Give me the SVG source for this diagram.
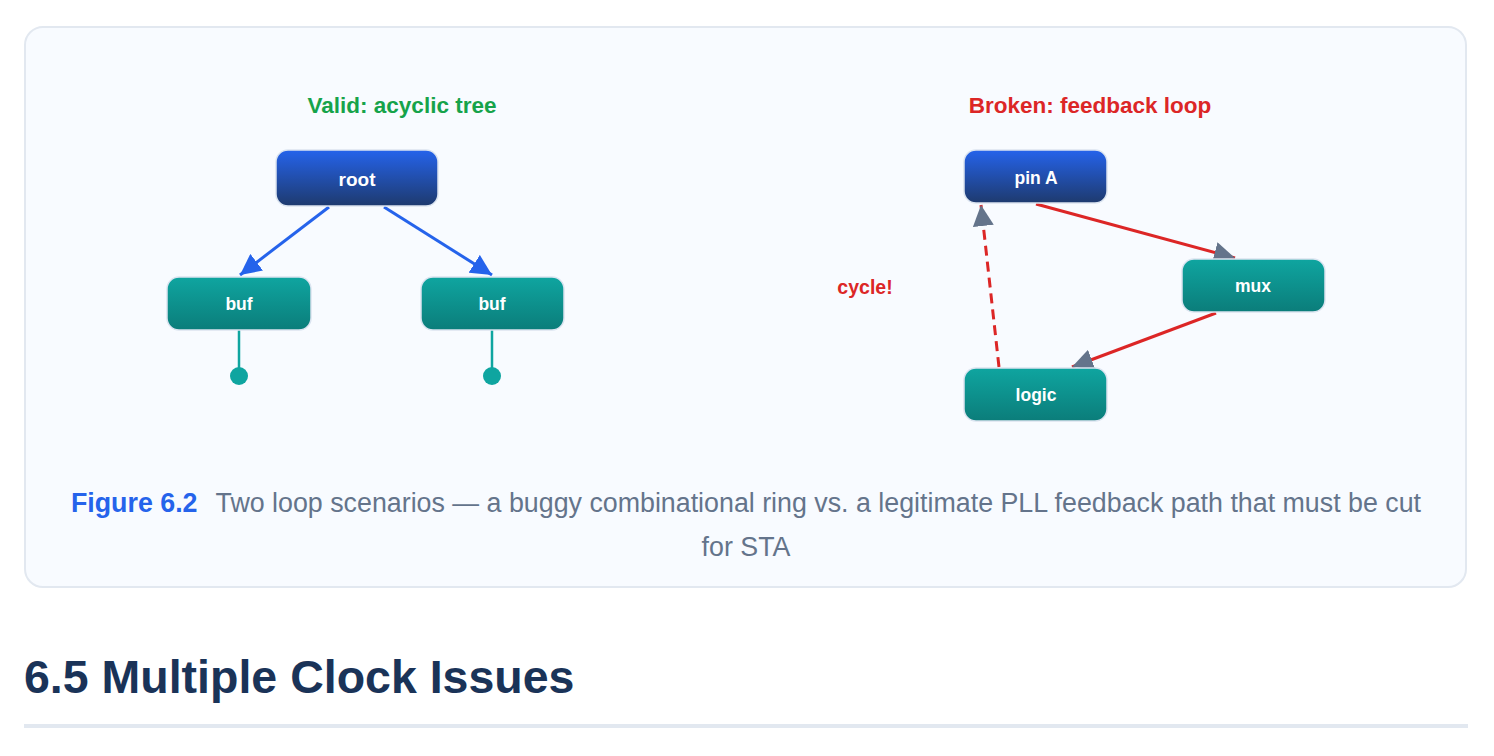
<svg xmlns="http://www.w3.org/2000/svg" width="1494" height="756" viewBox="0 0 1494 756">
<defs>
<linearGradient id="gb" x1="0" y1="0" x2="0" y2="1"><stop offset="0" stop-color="#2563eb"/><stop offset="1" stop-color="#1e3a6e"/></linearGradient>
<linearGradient id="gt" x1="0" y1="0" x2="0" y2="1"><stop offset="0" stop-color="#0fa5a0"/><stop offset="1" stop-color="#0b7d7a"/></linearGradient>
<marker id="ab" viewBox="0 0 10 10" refX="10" refY="5" markerWidth="7" markerHeight="7" markerUnits="strokeWidth" orient="auto"><path d="M0,0L10,5L0,10z" fill="#2563eb"/></marker>
<marker id="ag" viewBox="0 0 10 10" refX="10" refY="5" markerWidth="7" markerHeight="7" markerUnits="strokeWidth" orient="auto"><path d="M0,0L10,5L0,10z" fill="#64748b"/></marker>
<style>
.n{stroke:#dbe4f0;stroke-width:1.5}
.t{font-family:"Liberation Sans",Arial,sans-serif;font-weight:bold;font-size:18px;fill:#fff;text-anchor:middle}
.s{font-family:"Liberation Sans",Arial,sans-serif;font-weight:bold;font-size:22.5px;text-anchor:middle}
</style>
</defs>
<rect width="1494" height="756" fill="#fff"/>
<rect x="25" y="27" width="1441" height="560" rx="18" fill="#f8fbff" stroke="#e2e8f0" stroke-width="2"/>
<text class="s" x="402" y="113" fill="#16a34a">Valid: acyclic tree</text>
<text class="s" x="1090" y="113" fill="#dc2626">Broken: feedback loop</text>
<text class="s" x="865" y="294" fill="#dc2626" style="font-size:19.5px">cycle!</text>
<g id="connectors" fill="none" stroke-width="3">
<line x1="329" y1="207" x2="240" y2="275" stroke="#2563eb" marker-end="url(#ab)"/>
<line x1="384" y1="207" x2="492" y2="275" stroke="#2563eb" marker-end="url(#ab)"/>
<line x1="239" y1="330" x2="239" y2="370" stroke="#0fa5a0" stroke-width="2.5"/>
<line x1="492" y1="330" x2="492" y2="370" stroke="#0fa5a0" stroke-width="2.5"/>
<line x1="1036" y1="204" x2="1235" y2="258" stroke="#dc2626" marker-end="url(#ag)"/>
<line x1="1216" y1="313" x2="1072" y2="367" stroke="#dc2626" marker-end="url(#ag)"/>
<line x1="999" y1="367" x2="981" y2="205" stroke="#dc2626" stroke-dasharray="10,6" marker-end="url(#ag)"/>
</g>
<circle cx="239" cy="376" r="9" fill="#0fa5a0"/>
<circle cx="492" cy="376" r="9" fill="#0fa5a0"/>
<g id="root"><rect class="n" x="276" y="150" width="162" height="56" rx="12" fill="url(#gb)"/><text class="t" x="357" y="186" style="font-size:19px">root</text></g>
<g id="buf1"><rect class="n" x="167" y="277" width="144" height="53" rx="12" fill="url(#gt)"/><text class="t" x="239" y="310" style="font-size:17.5px">buf</text></g>
<g id="buf2"><rect class="n" x="421" y="277" width="143" height="53" rx="12" fill="url(#gt)"/><text class="t" x="492" y="310" style="font-size:17.5px">buf</text></g>
<g id="pinA"><rect class="n" x="964" y="150" width="143" height="53" rx="12" fill="url(#gb)"/><text class="t" x="1036" y="184" style="font-size:17.5px">pin A</text></g>
<g id="mux"><rect class="n" x="1182" y="259" width="143" height="53" rx="12" fill="url(#gt)"/><text class="t" x="1253" y="292" style="font-size:17.5px">mux</text></g>
<g id="logic"><rect class="n" x="964" y="368" width="143" height="53" rx="12" fill="url(#gt)"/><text class="t" x="1036" y="401" style="font-size:17.5px">logic</text></g>
<text x="746" y="512" text-anchor="middle" font-family="Liberation Sans,Arial,sans-serif" font-size="26.8" fill="#64748b"><tspan fill="#2563eb" font-weight="bold">Figure 6.2</tspan><tspan dx="18">Two loop scenarios — a buggy combinational ring vs. a legitimate PLL feedback path that must be cut</tspan></text>
<text x="746" y="556" text-anchor="middle" font-family="Liberation Sans,Arial,sans-serif" font-size="26.8" fill="#64748b">for STA</text>
<text x="24" y="693" font-family="Liberation Sans,Arial,sans-serif" font-size="46.5" font-weight="bold" fill="#1a3358">6.5 Multiple Clock Issues</text>
<rect x="24" y="724" width="1444" height="4" fill="#e2e8f0"/>
</svg>
